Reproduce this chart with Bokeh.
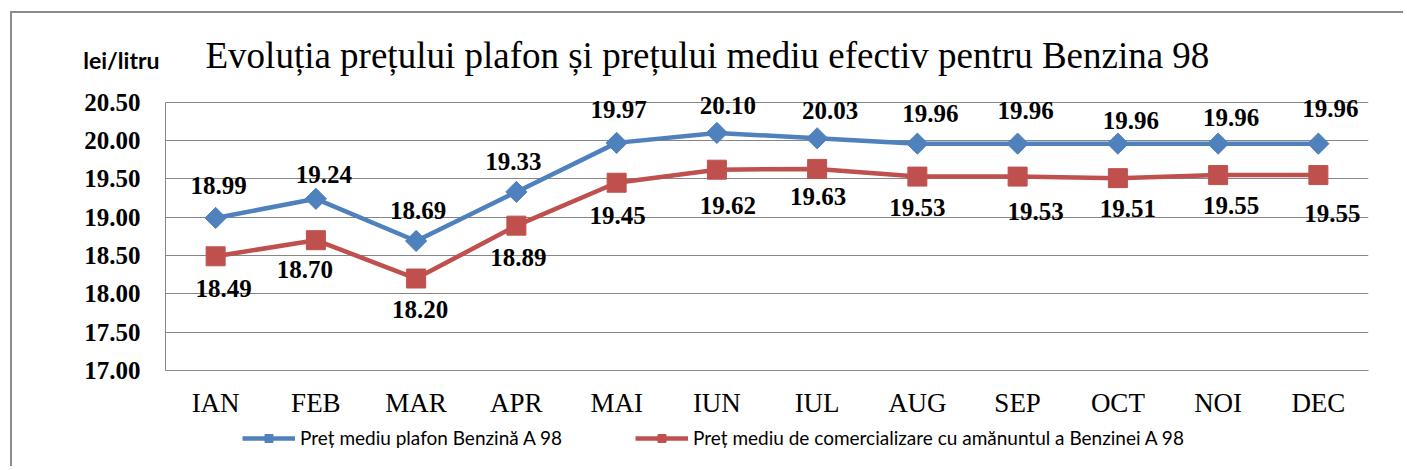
from bokeh.plotting import figure
from bokeh.layouts import column
from bokeh.models import (FixedTicker, NumeralTickFormatter, Label, LabelSet, Legend, LegendItem,
                          ColumnDataSource, Range1d, LinearAxis)
from bokeh.embed import file_html
from bokeh.resources import INLINE
import math

# ---- data ----
months = ["IAN", "FEB", "MAR", "APR", "MAI", "IUN", "IUL", "AUG", "SEP", "OCT", "NOI", "DEC"]
plafon = [18.99, 19.24, 18.69, 19.33, 19.97, 20.10, 20.03, 19.96, 19.96, 19.96, 19.96, 19.96]
mediu = [18.49, 18.70, 18.20, 18.89, 19.45, 19.62, 19.63, 19.53, 19.53, 19.51, 19.55, 19.55]
y_ticks = [17.0, 17.5, 18.0, 18.5, 19.0, 19.5, 20.0, 20.5]
title_text = "Evoluția prețului plafon și prețului mediu efectiv pentru Benzina 98"
unit_text = "lei/litru"
name_plafon = "Preț mediu plafon Benzină A 98"
name_mediu = "Preț mediu de comercializare cu amănuntul a Benzinei A 98"

# ---- label placement (style, pixels; positive dy = downwards) ----
blue_dx = [3, 8, 2, -3, 2, 11, 13, 13, 8, 13, 13, 12]
blue_dy = [-32, -24, -30, -30, -33, -27, -28, -30, -33, -23, -26, -35]
red_dx = [8, -11, 4, 2, 1, 11, 1, 0, 18, 10, 13, 14]
red_dy = [32, 29, 31, 32, 33, 36, 28, 31, 35, 30, 30, 38]

BLUE = "#4F81BD"
RED = "#C0504D"
GRID = "#868686"
FRAME = "#8c8c8c"
SERIF = "Liberation Serif"

# ---- geometry (page pixels) ----
OX, OY = 12, 13                 # where the bordered box content starts
PLOT_L, PLOT_R = 165, 1368      # plot area left/right
PLOT_T, PLOT_B = 102, 371       # y of 20.50 and 17.00
W = 1393
H_MAIN = 420 - OY
H_LEG = 48
px_per_unit = (PLOT_B - PLOT_T) / (y_ticks[-1] - y_ticks[0])
y_top = y_ticks[-1] + (PLOT_T - OY) / px_per_unit
unit_pos = round(y_ticks[-1] + (PLOT_T - 60) / px_per_unit, 2)

src = ColumnDataSource(dict(
    m=months, a=plafon, b=mediu,
    la=[f"{v:.2f}" for v in plafon], lb=[f"{v:.2f}" for v in mediu],
    bdx=blue_dx, bdy=[-d for d in blue_dy], rdx=red_dx, rdy=[-d for d in red_dy],
))

edge = f"2px solid {FRAME}"

p = figure(x_range=months, y_range=Range1d(y_ticks[0], y_top), width=W, height=H_MAIN,
           output_backend="svg", toolbar_location=None,
           min_border_left=PLOT_L - OX, min_border_right=OX + W - PLOT_R,
           min_border_top=0, min_border_bottom=OY + H_MAIN - PLOT_B,
           styles={"border-left": edge, "border-top": edge})
p.title.visible = False
p.outline_line_color = None
p.background_fill_color = "white"
p.border_fill_color = "white"

# axes
p.yaxis.ticker = FixedTicker(ticks=y_ticks)
p.yaxis.bounds = (y_ticks[0], y_ticks[-1])
p.yaxis.formatter = NumeralTickFormatter(format="0.00")
p.yaxis.axis_line_color = GRID
p.yaxis.major_tick_line_color = None
p.yaxis.major_tick_out = 0
p.yaxis.major_tick_in = 0
p.yaxis.minor_tick_line_color = None
p.yaxis.major_label_text_font = SERIF
p.yaxis.major_label_text_font_style = "bold"
p.yaxis.major_label_text_font_size = "25px"
p.yaxis.major_label_text_color = "black"
p.yaxis.major_label_standoff = 25

# unit caption as an outer left axis carrying a single label
unit_axis = LinearAxis(ticker=FixedTicker(ticks=[unit_pos]),
                       major_label_overrides={unit_pos: unit_text},
                       axis_line_color=None, major_tick_line_color=None,
                       minor_tick_line_color=None, major_tick_out=0, major_tick_in=0,
                       major_label_standoff=-78,
                       major_label_text_font="Lato", major_label_text_font_style="bold",
                       major_label_text_font_size="23px", major_label_text_color="black")
p.add_layout(unit_axis, "left")

p.xaxis.axis_line_color = GRID
p.xaxis.major_tick_line_color = None
p.xaxis.major_tick_out = 0
p.xaxis.major_tick_in = 0
p.xaxis.minor_tick_line_color = None
p.xaxis.major_label_text_font = SERIF
p.xaxis.major_label_text_font_size = "27px"
p.xaxis.major_label_text_color = "black"
p.xaxis.major_label_standoff = 17

p.xgrid.grid_line_color = None
p.ygrid.ticker = FixedTicker(ticks=y_ticks)
p.ygrid.grid_line_color = GRID
p.ygrid.grid_line_width = 1

# series
p.line("m", "a", source=src, line_color=BLUE, line_width=4.5)
p.scatter("m", "a", source=src, marker="square", angle=math.pi / 4, size=15,
          fill_color=BLUE, line_color=BLUE)
p.line("m", "b", source=src, line_color=RED, line_width=4.5)
p.scatter("m", "b", source=src, marker="square", size=19,
          fill_color=RED, line_color=RED)

p.add_layout(LabelSet(x="m", y="a", text="la", source=src, x_offset="bdx", y_offset="bdy",
                      text_font=SERIF, text_font_style="bold", text_font_size="25px",
                      text_align="center", text_baseline="middle", text_color="black"))
p.add_layout(LabelSet(x="m", y="b", text="lb", source=src, x_offset="rdx", y_offset="rdy",
                      text_font=SERIF, text_font_style="bold", text_font_size="25px",
                      text_align="center", text_baseline="middle", text_color="black"))

# chart title (screen units: from plot-area left / bottom)
p.add_layout(Label(x=205 - PLOT_L, y=PLOT_B - 56, x_units="screen", y_units="screen",
                   text=title_text, text_font=SERIF, text_font_size="37px",
                   text_baseline="middle", text_color="black"))

# ---- legend strip ----
q = figure(width=W, height=H_LEG, output_backend="svg", toolbar_location=None,
           x_range=months, y_range=Range1d(0, 1),
           x_axis_location=None, y_axis_location=None,
           min_border_left=0, min_border_right=0, min_border_top=0, min_border_bottom=0,
           styles={"border-left": edge})
q.title.visible = False
q.outline_line_color = None
q.xgrid.grid_line_color = None
q.ygrid.grid_line_color = None
q.background_fill_color = "white"
q.border_fill_color = "white"
ql1 = q.line("m", "a", source=src, line_color=BLUE, line_width=4.5)
qs1 = q.scatter("m", "a", source=src, marker="square", angle=math.pi / 4, size=8,
                fill_color=BLUE, line_color=BLUE)
ql2 = q.line("m", "b", source=src, line_color=RED, line_width=4.5)
qs2 = q.scatter("m", "b", source=src, marker="square", size=12, fill_color=RED, line_color=RED)
lg = Legend(items=[LegendItem(label=name_plafon, renderers=[ql1, qs1]),
                   LegendItem(label=name_mediu, renderers=[ql2, qs2])],
            location=(242 - PLOT_L, OY + H_MAIN + H_LEG - 451), orientation="horizontal",
            padding=0, margin=0, spacing=5, border_line_color=None, background_fill_alpha=0,
            glyph_width=53, glyph_height=20, label_standoff=5, label_width=330,
            label_text_font="Lato", label_text_font_size="19px",
            label_text_color="black", label_text_baseline="middle")
q.add_layout(lg, "center")

layout = column(p, q, spacing=0, margin=(OY - 2, 0, 0, OX - 2))
open("out.html", "w").write(file_html(layout, INLINE))
